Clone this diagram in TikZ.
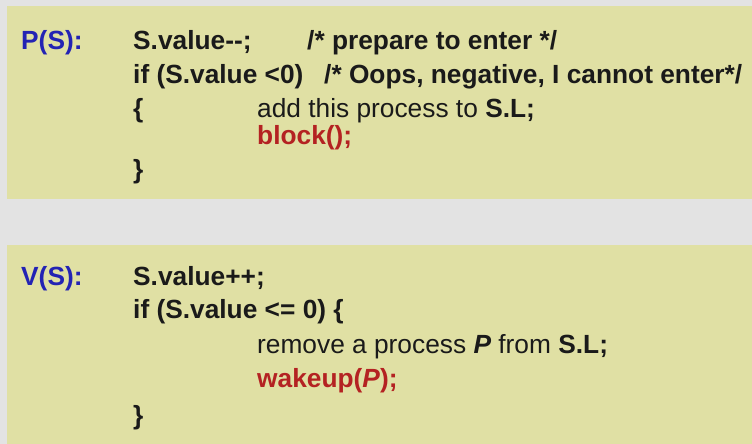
\documentclass[tikz,border=0pt]{standalone}
\usepackage{fontspec}
\setmainfont{Liberation Sans}
\definecolor{bggray}{RGB}{227,227,227}
\definecolor{boxfill}{RGB}{224,224,164}
\definecolor{kwblue}{RGB}{35,35,180}
\definecolor{kwred}{RGB}{180,34,34}
\definecolor{txt}{RGB}{26,26,26}
\tikzset{
  panel/.style={fill=boxfill, draw=none},
  codeline/.style={anchor=base west, inner sep=0pt, text=txt,
    font=\fontsize{26.3}{30}\selectfont\bfseries},
  plain/.style={codeline, font=\fontsize{26.3}{30}\selectfont\mdseries},
  label/.style={codeline, text=kwblue},
  hot/.style={codeline, text=kwred}
}
\begin{document}
\begin{tikzpicture}[x=1pt,y=-1pt]
\fill[bggray] (0,0) rectangle (752,444);
\useasboundingbox (0,0) rectangle (752,444);
\fill[panel] (7,6) rectangle (752,199);
\fill[panel] (7,245) rectangle (752,444);
% P(S)
\node[label] (pl) at (21,49) {P(S):};
\node[codeline] (p1) at (133,49) {S.value-{}-;};
\node[codeline] (p1c) at (307,49) {/* prepare to enter */};
\node[codeline] (p2) at (133,83) {if (S.value <0)};
\node[codeline] (p2c) at (324,83) {/* Oops, negative, I cannot enter*/};
\node[codeline] (p3) at (133,117) {\{};
\node[plain] (p3t) at (257,117) {add this process to \textbf{S.L;}};
\node[hot] (p4) at (257,144) {block();};
\node[codeline] (p5) at (133,178) {\}};
% V(S)
\node[label] (vl) at (21,285) {V(S):};
\node[codeline] (v1) at (133,285) {S.value++;};
\node[codeline] (v2) at (133,318) {if (S.value <= 0) \{};
\node[plain] (v3) at (257,353) {remove a process \textbf{\textit{P}} from \textbf{S.L;}};
\node[hot] (v4) at (257,387) {wakeup(\textit{P});};
\node[codeline] (v5) at (133,424) {\}};
\end{tikzpicture}
\end{document}
